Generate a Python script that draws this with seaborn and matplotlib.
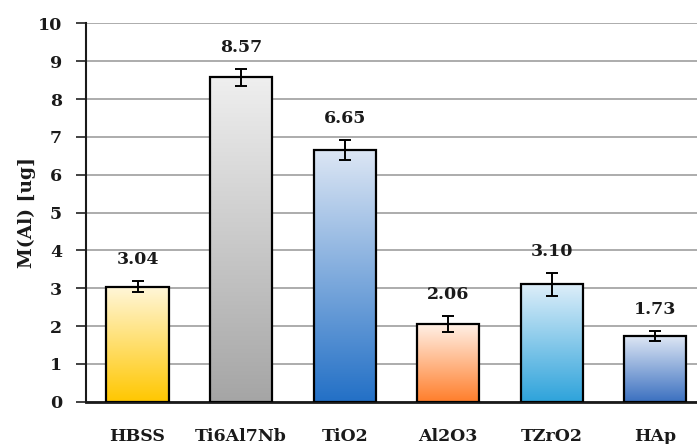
import numpy as np
import matplotlib
matplotlib.use('Agg')
import matplotlib.pyplot as plt
from matplotlib.colors import LinearSegmentedColormap
import seaborn as sns

# data
samples = ['HBSS', 'Ti6Al7Nb', 'TiO2', 'Al2O3', 'TZrO2', 'HAp']
mass_al = [3.04, 8.57, 6.65, 2.06, 3.10, 1.73]
mass_err = [0.15, 0.23, 0.27, 0.21, 0.30, 0.13]
value_labels = ['3.04', '8.57', '6.65', '2.06', '3.10', '1.73']

# gradient colours per bar (top, bottom)
top_colors = ['#FFF6D8', '#EFEFEF', '#DCE6F4', '#FFF0E6', '#DDEEF9', '#DDE6F4']
bottom_colors = ['#FFC700', '#A5A5A5', '#2370C6', '#FF7E2B', '#2EA3DB', '#3B70C0']

sns.set_style('white')
plt.rcParams['font.family'] = ['DejaVu Serif']
plt.rcParams['font.weight'] = 'bold'

fig = plt.figure(figsize=(6.97, 4.44), dpi=100)
ax = fig.add_axes([0.123, 0.0953, 0.8915, 0.852])

sns.barplot(x=samples, y=mass_al, ax=ax, width=0.6, color='white',
            edgecolor='black', linewidth=1.6, zorder=3)

# paint a vertical gradient inside every bar
for patch, c_top, c_bot in zip(ax.patches, top_colors, bottom_colors):
    x0, y0 = patch.get_x(), patch.get_y()
    w, h = patch.get_width(), patch.get_height()
    cmap = LinearSegmentedColormap.from_list('g', [c_bot, c_top])
    grad = np.linspace(0, 1, 256).reshape(-1, 1)
    im = ax.imshow(grad, cmap=cmap, aspect='auto', origin='lower',
                   extent=[x0, x0 + w, y0, y0 + h], zorder=3.5)
    im.set_clip_path(patch)
    patch.set_zorder(4)
    patch.set_facecolor('none')

xpos = np.arange(len(samples))
ax.errorbar(xpos, mass_al, yerr=mass_err, fmt='none', ecolor='black',
            elinewidth=1.4, capsize=4.3, capthick=1.4, zorder=5)

for x, v, e, lab in zip(xpos, mass_al, mass_err, value_labels):
    ax.annotate(lab, (x, v + e), xytext=(0, 9.5), textcoords='offset points',
                ha='center', va='bottom', fontsize=12.5, fontweight='bold',
                color='#1a1a1a')

ax.set_xlim(-0.5, len(samples) - 0.5)
ax.set_ylim(0, 10)
ax.set_yticks(range(0, 11))
ax.yaxis.grid(True, color='#A6A6A6', linewidth=1.3, zorder=0)
ax.set_axisbelow(True)

for side in ['top', 'right']:
    ax.spines[side].set_visible(False)
ax.spines['left'].set_color('#1a1a1a')
ax.spines['left'].set_linewidth(1.5)
ax.spines['bottom'].set_color('#1a1a1a')
ax.spines['bottom'].set_linewidth(2)

ax.tick_params(axis='y', which='major', direction='out', length=7, width=1.3,
               color='#333333', left=True, labelsize=12.5, pad=10,
               labelcolor='#1a1a1a')
ax.tick_params(axis='x', length=0, labelsize=12.5, pad=19, labelcolor='#1a1a1a')
for lbl in ax.get_xticklabels() + ax.get_yticklabels():
    lbl.set_fontweight('bold')

ax.set_ylabel('M(Al) [ug]', fontsize=13.5, fontweight='bold', labelpad=1,
              color='#1a1a1a')

fig.savefig('out.png', dpi=100)
